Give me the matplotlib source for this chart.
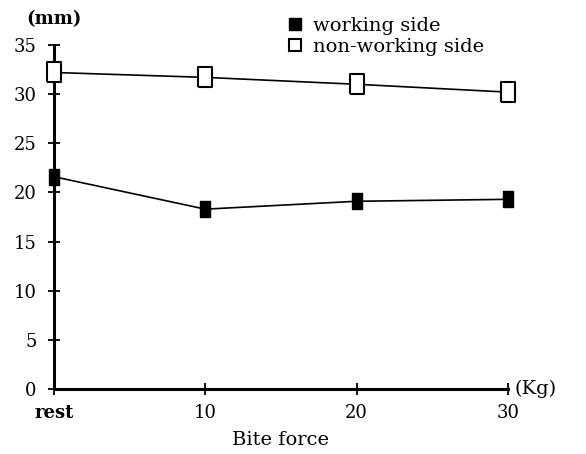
import numpy as np
import matplotlib.pyplot as plt

categories = ['rest', '10', '20', '30']
working_side = [21.6, 18.3, 19.1, 19.3]
non_working_side = [32.2, 31.7, 31.0, 30.2]
y_ticks = [0, 5, 10, 15, 20, 25, 30, 35]

plt.rcParams['font.family'] = ['DejaVu Serif']

fig = plt.figure(figsize=(5.86, 4.54), dpi=100)
ax = fig.add_axes([0.092, 0.143, 0.775, 0.758])

# slightly tall rectangle markers, like the scanned figure
tall_box = [(-0.77, -1), (0.77, -1), (0.77, 1), (-0.77, 1), (-0.77, -1)]
slim_box = [(-0.65, -1), (0.65, -1), (0.65, 1), (-0.65, 1), (-0.65, -1)]

x = np.arange(len(categories))
ax.plot(x, non_working_side, color='black', linewidth=1.2, marker=tall_box,
        markersize=14, markerfacecolor='white', markeredgecolor='black',
        markeredgewidth=1.5, label='non-working side', clip_on=False, zorder=3)
ax.plot(x, working_side, color='black', linewidth=1.2, marker=slim_box,
        markersize=11, markerfacecolor='black', markeredgecolor='black',
        label='working side', clip_on=False, zorder=3)

ax.set_xlim(0, len(categories) - 1)
ax.set_ylim(0, 35)
ax.set_xticks(x)
ax.set_xticklabels(categories)
ax.set_yticks(y_ticks)

ax.spines['right'].set_color('none')
ax.spines['top'].set_color('none')
plt.setp(ax.spines.values(), linewidth=2.2)
ax.tick_params(direction='inout', length=9, width=1.3, labelsize=13, pad=8)
ax.tick_params(axis='x', pad=6)
for lab in ax.get_xticklabels():
    lab.set_fontweight('bold' if lab.get_text() == 'rest' else 'normal')

ax.set_xlabel('Bite force', fontsize=14, labelpad=7)
ax.text(0.0, 1.075, '(mm)', transform=ax.transAxes, fontsize=13,
        fontweight='bold', ha='center', va='center')
ax.text(1.015, 0.0, '(Kg)', transform=ax.transAxes, fontsize=14,
        ha='left', va='center')

handles, labels = ax.get_legend_handles_labels()
leg = ax.legend(handles[::-1], labels[::-1], loc='upper right',
                bbox_to_anchor=(0.965, 1.105), frameon=False, fontsize=14,
                handlelength=0.7, handletextpad=0.6, labelspacing=0.15,
                borderaxespad=0)
for h in leg.legend_handles:
    h.set_linestyle('none')
    h.set_marker('s')
    h.set_markersize(9)

fig.savefig('out.png', dpi=100)
